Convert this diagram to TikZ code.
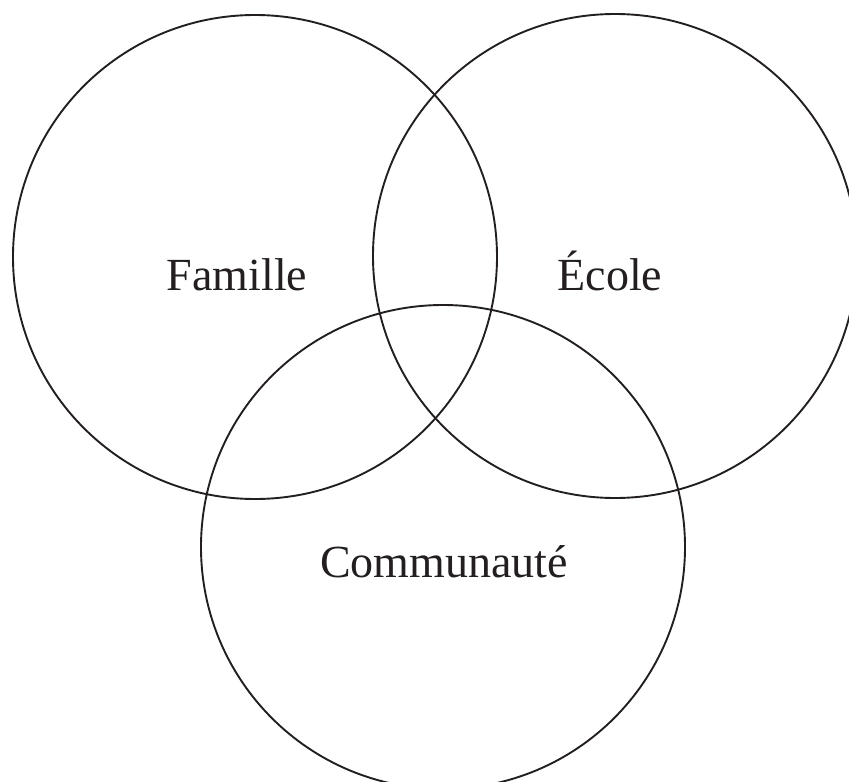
\documentclass[tikz,border=0pt]{standalone}
\usepackage{fontspec}
\setmainfont{Liberation Serif}
\definecolor{ink}{RGB}{35,31,32}
\begin{document}
\begin{tikzpicture}[x=1pt,y=-1pt,
  ring/.style={circle, draw=ink, line width=1.9pt, minimum size=484pt, inner sep=0pt},
  lab/.style={anchor=base, text=ink, font=\fontsize{46}{50}\selectfont}]
\useasboundingbox (0,0) rectangle (849,782);
\clip (0,0) rectangle (849,782);
\node[ring] (cfam) at (255,257){};
\node[ring] (ceco) at (615,256){};
\node[ring] (ccom) at (443,547){};
\node[lab] (tfam) at (237,290){Famille};
\node[lab] (teco) at (610,290){École};
\node[lab] (tcom) at (444,577){Communauté};
\end{tikzpicture}
\end{document}
